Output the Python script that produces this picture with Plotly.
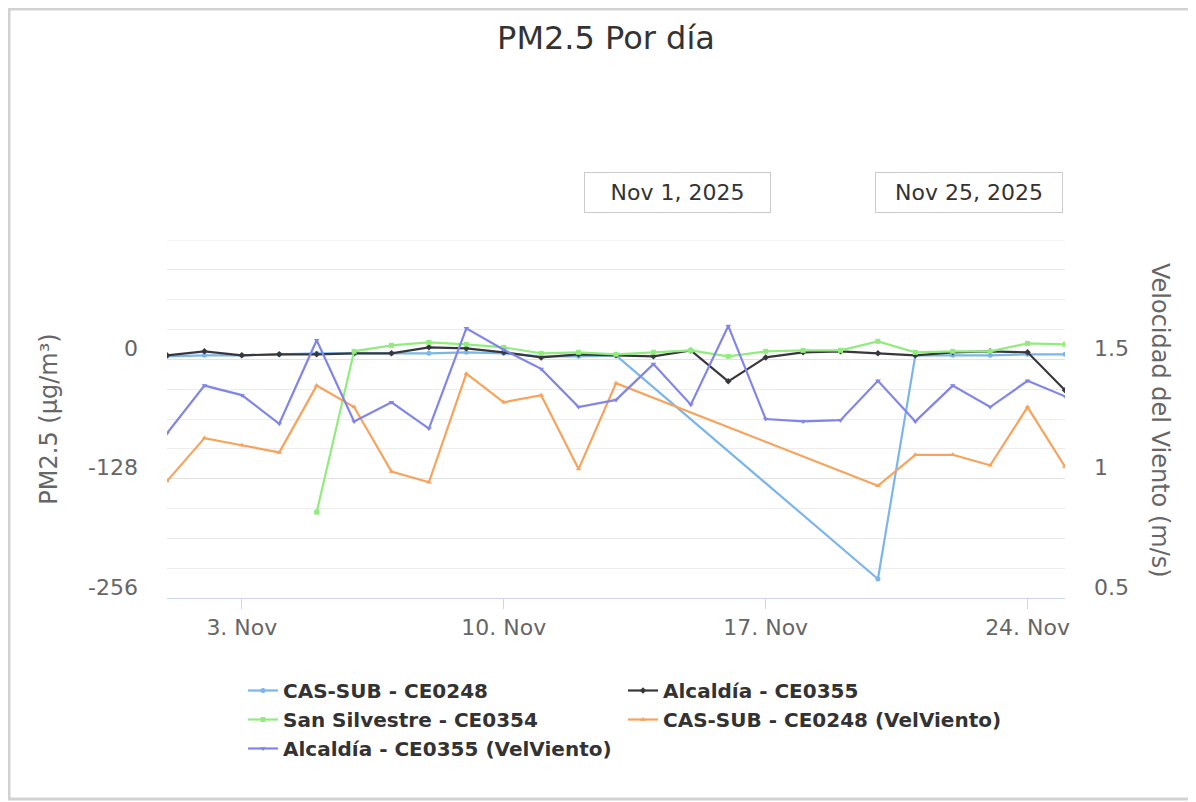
import plotly.graph_objects as go

# ---------------- data ----------------
dates = [f"2025-11-{d:02d}" for d in range(1, 26)]

# PM2.5 (left axis)
cas_sub_pm = [3.2, 4.3, 4.3, 5.4, 6.4, 6.4, 6.4, 6.4, 7.5, 6.4, 3.2, 3.2, 4.3,
              None, None, None, None, None, None,
              -235.6, 4.3, 4.3, 4.3, 5.4, 5.4]
alcaldia_pm = [4.3, 8.6, 4.3, 5.4, 5.4, 6.4, 6.4, 12.9, 11.8, 7.5, 2.1, 5.4, 4.3,
               3.2, 9.6, -23.6, 2.1, 7.5, 8.6, 6.4, 4.3, 7.5, 8.6, 7.5, -33.2]
san_silvestre_pm = [None, None, None, None, -163.9, 8.6, 15.0, 18.2, 16.1, 12.9,
                    6.4, 7.5, 5.4, 7.5, 9.6, 3.2, 8.6, 9.6, 9.6, 19.3, 7.5, 8.6,
                    8.6, 17.1, 16.1]

# Wind speed (right axis)
cas_sub_wind = [0.99, 1.17, 1.14, 1.11, 1.39, 1.30, 1.03, 0.985, 1.44, 1.32,
                1.35, 1.04, 1.40,
                None, None, None, None, None, None,
                0.97, 1.10, 1.10, 1.056, 1.30, 1.05]
alcaldia_wind = [1.19, 1.39, 1.35, 1.23, 1.58, 1.24, 1.32, 1.21, 1.63, 1.54,
                 1.46, 1.30, 1.33, 1.48, 1.31, 1.64, 1.25, 1.24, 1.245, 1.41,
                 1.24, 1.39, 1.30, 1.41, 1.345]

series_names = ["CAS-SUB - CE0248", "Alcaldía - CE0355", "San Silvestre - CE0354",
                "CAS-SUB - CE0248 (VelViento)", "Alcaldía - CE0355 (VelViento)"]
colors = ["#7cb5ec", "#38383c", "#90ed7d", "#f7a35c", "#8085e9"]
symbols = ["circle", "diamond", "square", "triangle-up", "triangle-down"]

left_range = [-256, 128]
left_ticks = [-256, -128, 0]
left_tick_text = ["-256", "-128", "0"]
right_range = [0.5, 2.0]
right_ticks = [0.5, 1, 1.5]
right_tick_text = ["0.5", "1", "1.5"]
x_range = ["2025-11-01", "2025-11-25"]
x_ticks = ["2025-11-03", "2025-11-10", "2025-11-17", "2025-11-24"]
x_tick_text = ["3. Nov", "10. Nov", "17. Nov", "24. Nov"]
range_labels = ["Nov 1, 2025", "Nov 25, 2025"]

# ---------------- layout geometry (page px; the page body has an 8px margin) ----------------
W, H = 1196, 802
OFF = 8
PL, PR, PT, PB = 167, 1065, 240, 598
pw, ph = PR - PL, PB - PT


def px(x):
    return (x - PL) / pw


def py(y):
    return (PB - y) / ph


FONT = "DejaVu Sans"

fig = go.Figure()
data_sets = [(cas_sub_pm, "y", True), (alcaldia_pm, "y", False),
             (san_silvestre_pm, "y", False), (cas_sub_wind, "y2", True),
             (alcaldia_wind, "y2", False)]
for i, (vals, ax, cg) in enumerate(data_sets):
    fig.add_trace(go.Scatter(
        x=dates, y=vals, name=series_names[i], yaxis=ax, mode="lines+markers",
        connectgaps=cg,
        line=dict(color=colors[i], width=2.2),
        marker=dict(color=colors[i], size=5, symbol=symbols[i]),
    ))

fig.update_layout(
    width=W, height=H,
    margin=dict(l=PL - OFF, r=W - (PR - OFF), t=PT - OFF, b=H - (PB - OFF), pad=0),
    paper_bgcolor="white", plot_bgcolor="white",
    font=dict(family=FONT, color="#666666"),
    title=dict(text="PM2.5 Por día", x=px(606), xref="paper", xanchor="center",
               y=1 - (38 - OFF) / H, yanchor="middle",
               font=dict(size=32, color="#333333", family=FONT)),
    showlegend=True,
    legend=dict(orientation="h", x=px(243), xanchor="left", y=py(671),
                yanchor="top", entrywidth=335, entrywidthmode="pixels",
                font=dict(size=20, color="#333333", family=FONT, weight="bold"),
                bgcolor="rgba(0,0,0,0)", itemclick=False),
    xaxis=dict(
        type="date", range=x_range,
        tickmode="array", tickvals=x_ticks, ticktext=x_tick_text,
        showgrid=False, zeroline=False,
        showline=True, linecolor="#ccd6eb", linewidth=1,
        ticks="outside", ticklen=10, tickcolor="#ccd6eb",
        tickfont=dict(size=22, color="#666666"),
    ),
    yaxis=dict(
        range=left_range, tickmode="array", tickvals=left_ticks,
        ticktext=left_tick_text,
        showgrid=True, gridcolor="#e2e2e2", gridwidth=1,
        zeroline=False, showline=False, ticks="",
        tickfont=dict(size=22, color="#666666"),
        ticklabelshift=-11, ticklabelstandoff=28,
        minor=dict(tickmode="linear", tick0=0, dtick=32, showgrid=True,
                   gridcolor="#ececec", gridwidth=1, ticks=""),
        title=dict(text="PM2.5 (µg/m³)", font=dict(size=24, color="#666666"),
                   standoff=23),
    ),
    yaxis2=dict(
        overlaying="y", side="right", range=right_range,
        tickmode="array", tickvals=right_ticks, ticktext=right_tick_text,
        showgrid=False, zeroline=False, showline=False, ticks="",
        tickfont=dict(size=22, color="#666666"),
        ticklabelshift=-11, ticklabelstandoff=28,
    ),
    annotations=[
        dict(text="Velocidad del Viento (m/s)", textangle=90,
             xref="paper", yref="paper", x=px(1160), y=py(420),
             xanchor="center", yanchor="middle", showarrow=False,
             font=dict(size=24, color="#666666", family=FONT)),
        dict(text=range_labels[0], xref="paper", yref="paper",
             x=px(677.5), y=py(192.5), xanchor="center", yanchor="middle",
             showarrow=False, width=183, height=37, bordercolor="#cccccc",
             borderwidth=1, borderpad=1,
             font=dict(size=22, color="#333333", family=FONT)),
        dict(text=range_labels[1], xref="paper", yref="paper",
             x=px(969), y=py(192.5), xanchor="center", yanchor="middle",
             showarrow=False, width=184, height=37, bordercolor="#cccccc",
             borderwidth=1, borderpad=1,
             font=dict(size=22, color="#333333", family=FONT)),
    ],
    shapes=[
        # chart container border
        dict(type="rect", xref="paper", yref="paper",
             x0=px(9), x1=px(1240), y0=py(799), y1=py(9),
             line=dict(color="#d2d2d2", width=3), fillcolor="rgba(0,0,0,0)",
             layer="below"),
        # top grid line at the upper end of the left axis range
        dict(type="line", xref="paper", yref="y", x0=0, x1=1,
             y0=left_range[1], y1=left_range[1],
             line=dict(color="#ececec", width=1), layer="below"),
    ],
)

fig.write_html("out.html")
